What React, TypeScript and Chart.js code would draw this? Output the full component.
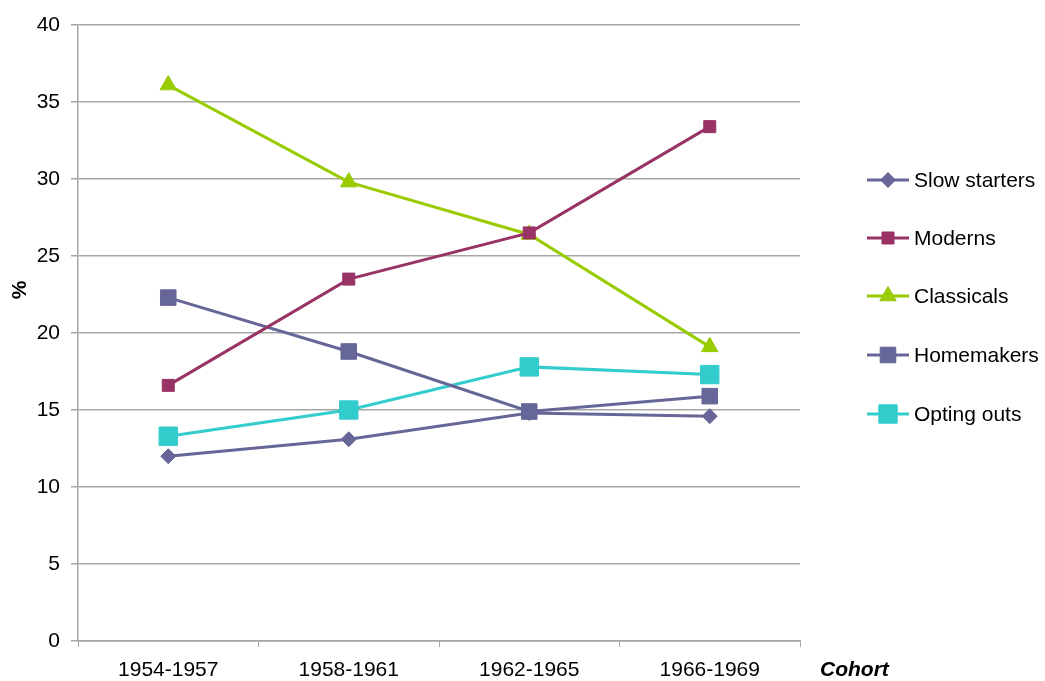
import React, { useEffect, useRef } from "react";
import { Chart, registerables } from "chart.js";

Chart.register(...registerables);

const cohorts = ["1954-1957", "1958-1961", "1962-1965", "1966-1969"];
const slowStarters = [12.0, 13.1, 14.8, 14.6];
const moderns = [16.6, 23.5, 26.5, 33.4];
const classicals = [36.1, 29.8, 26.4, 19.1];
const homemakers = [22.3, 18.8, 14.9, 15.9];
const optingOuts = [13.3, 15.0, 17.8, 17.3];
const yTicks = [0, 5, 10, 15, 20, 25, 30, 35, 40];

const FONT = "'Liberation Sans', Arial, sans-serif";

function drawMarker(ctx: any, style: string, r: number, x: number, y: number) {
  ctx.beginPath();
  if (style === "rectRot") {
    ctx.moveTo(x, y - r);
    ctx.lineTo(x + r, y);
    ctx.lineTo(x, y + r);
    ctx.lineTo(x - r, y);
    ctx.closePath();
  } else if (style === "triangle") {
    const a = (2 * Math.PI) / 3;
    ctx.moveTo(x, y - r);
    ctx.lineTo(x + Math.sin(a) * r, y - Math.cos(a) * r);
    ctx.lineTo(x + Math.sin(2 * a) * r, y - Math.cos(2 * a) * r);
    ctx.closePath();
  } else {
    const s = Math.SQRT1_2 * r;
    ctx.rect(x - s, y - s, 2 * s, 2 * s);
  }
  ctx.fill();
  ctx.stroke();
}

const overlayPlugin = {
  id: "overlay",
  afterDraw(chart: any) {
    const ctx = chart.ctx;
    const area = chart.chartArea;
    ctx.save();
    ctx.fillStyle = "#000";
    ctx.font = `bold 21px ${FONT}`;
    ctx.textAlign = "center";
    ctx.textBaseline = "middle";
    ctx.save();
    ctx.translate(20, 290);
    ctx.rotate(-Math.PI / 2);
    ctx.fillText("%", 0, 0);
    ctx.restore();
    ctx.font = `italic bold 21px ${FONT}`;
    ctx.textAlign = "left";
    ctx.fillText("Cohort", area.right + 20, area.bottom + 29);
    const ys = [180, 238, 296, 355, 414];
    chart.data.datasets.forEach((ds: any, i: number) => {
      const y = ys[i];
      ctx.strokeStyle = ds.borderColor;
      ctx.lineWidth = ds.borderWidth;
      ctx.beginPath();
      ctx.moveTo(867, y);
      ctx.lineTo(909, y);
      ctx.stroke();
      ctx.fillStyle = ds.pointBackgroundColor;
      ctx.strokeStyle = ds.pointBackgroundColor;
      ctx.lineWidth = 1;
      drawMarker(ctx, ds.pointStyle, ds.pointRadius, 888, y);
      ctx.fillStyle = "#000";
      ctx.font = `21px ${FONT}`;
      ctx.textAlign = "left";
      ctx.textBaseline = "middle";
      ctx.fillText(ds.label, 914, y + 1);
    });
    ctx.restore();
  },
};

export default function App() {
  const ref = useRef<HTMLCanvasElement>(null);
  useEffect(() => {
    document.body.style.margin = "0";
    const mk = (label: string, data: number[], color: string, style: string, r: number) => ({
      label,
      data,
      borderColor: color,
      backgroundColor: color,
      pointBackgroundColor: color,
      pointBorderColor: color,
      borderWidth: 3,
      pointStyle: style,
      pointRadius: r,
      pointHoverRadius: r,
      pointBorderWidth: 1,
      tension: 0,
    });
    const chart = new Chart(ref.current!, {
      type: "line",
      data: {
        labels: cohorts,
        datasets: [
          mk("Slow starters", slowStarters, "#666699", "rectRot", 7.5),
          mk("Moderns", moderns, "#993366", "rect", 8.5),
          mk("Classicals", classicals, "#99CC00", "triangle", 9.5),
          mk("Homemakers", homemakers, "#666699", "rect", 11),
          mk("Opting outs", optingOuts, "#33CCCC", "rect", 13),
        ],
      },
      options: {
        animation: false,
        responsive: false,
        layout: { padding: { left: 0, right: 245, top: 25, bottom: 0 } },
        plugins: { legend: { display: false }, tooltip: { enabled: false } },
        scales: {
          x: {
            offset: true,
            grid: {
              display: true,
              offset: true,
              drawOnChartArea: false,
              drawTicks: true,
              tickLength: 6,
              color: "#A6A6A6",
            },
            border: { color: "#A6A6A6", width: 1.5 },
            ticks: { color: "#000", font: { family: FONT, size: 21 }, padding: 11 },
            afterFit: (s: any) => { s.height = 40; },
          },
          y: {
            min: 0,
            max: 40,
            afterBuildTicks: (s: any) => { s.ticks = yTicks.map((v) => ({ value: v })); },
            grid: { color: "#A6A6A6", lineWidth: 1.5, tickLength: 7 },
            border: { color: "#A6A6A6", width: 1.5 },
            ticks: { color: "#000", font: { family: FONT, size: 21 }, padding: 11 },
            afterFit: (s: any) => { s.width = 78; },
          },
        },
      },
      plugins: [overlayPlugin],
    } as any);
    return () => chart.destroy();
  }, []);
  return (
    <div style={{ position: "absolute", left: 0, top: 0, width: 1045, height: 681 }}>
      <canvas ref={ref} width={1045} height={681} />
    </div>
  );
}
